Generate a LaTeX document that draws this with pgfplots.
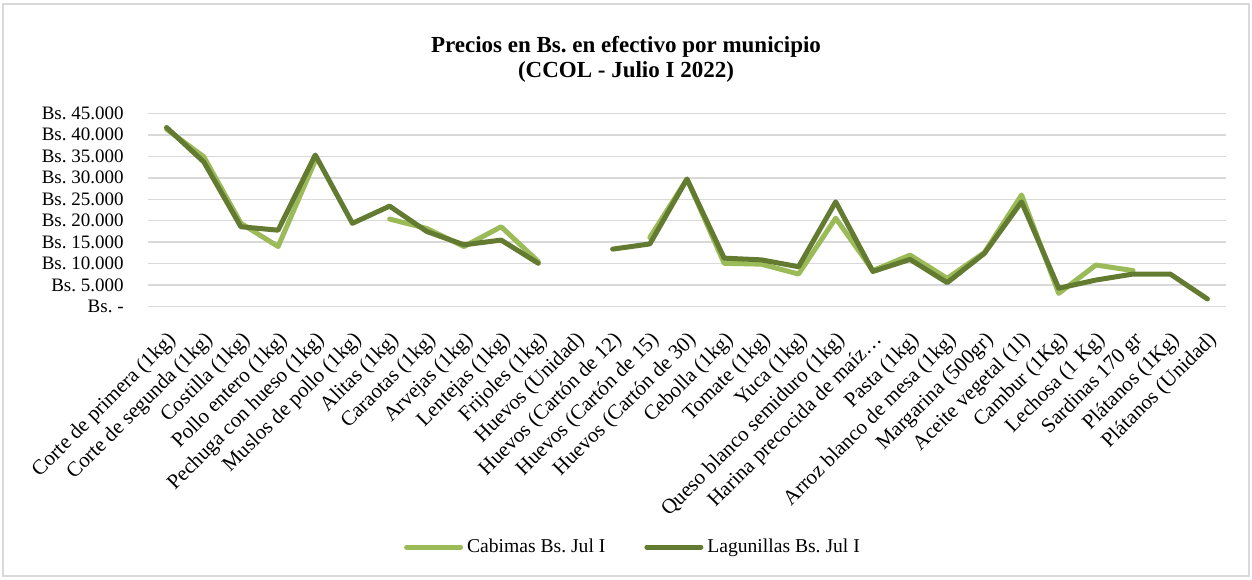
\documentclass[border=0pt]{standalone}
\usepackage{fontspec}
\setmainfont{Liberation Serif}
\usepackage{pgfplots}
\usepackage{pgfplotstable}
\pgfplotsset{compat=1.18}
\frenchspacing

\definecolor{cabimas}{HTML}{9BBB59}
\definecolor{lagun}{HTML}{637B31}
\definecolor{gridc}{HTML}{D9D9D9}

% precios por producto (indice 0..28), nan = sin dato
\pgfplotstableread{
x  cab    lag
0  41300  41700
1  34900  33700
2  19400  18600
3  14000  17800
4  34000  35300
5  nan    19400
6  20400  23400
7  18200  17500
8  14000  14400
9  18600  15500
10 10500  10100
11 nan    nan
12 nan    13400
13 16100  14600
14 29700  29700
15 10100  11300
16 9900   10900
17 7600   9300
18 20600  24400
19 8400   8200
20 12000  11000
21 6600   5600
22 12600  12400
23 26000  24400
24 3100   4300
25 9700   6200
26 8400   7600
27 nan    7600
28 nan    1800
}\precios

\begin{document}
\begin{tikzpicture}
\useasboundingbox (0,0) rectangle (626pt,289.5pt);
\draw[gridc, line width=1pt] (1.5pt,1.5pt) rectangle (624.5pt,287.5pt);
\node[align=center, font=\bfseries\fontsize{11.5}{12.6}\selectfont] at (313pt,260pt)
  {Precios en Bs. en efectivo por municipio\\(CCOL - Julio I 2022)};

\begin{axis}[
  at={(74pt,136.15pt)}, anchor=south west,
  scale only axis, width=539pt, height=96.7pt,
  xmin=-0.5, xmax=28.5, ymin=0, ymax=45000,
  scaled y ticks=false,
  axis line style={draw=none},
  major tick length=0pt,
  ymajorgrids, grid style={gridc, line width=0.75pt},
  ytick={0,5000,...,45000},
  yticklabels={Bs. -,Bs. 5.000,Bs. 10.000,Bs. 15.000,Bs. 20.000,Bs. 25.000,Bs. 30.000,Bs. 35.000,Bs. 40.000,Bs. 45.000},
  yticklabel style={anchor=east, inner sep=0pt, xshift=-12pt, font=\fontsize{9.5}{11}\selectfont},
  xtick={0,...,28},
  xticklabels={Corte de primera (1kg),Corte de segunda (1kg),Costilla (1kg),Pollo entero (1kg),Pechuga con hueso (1kg),Muslos de pollo (1kg),Alitas (1kg),Caraotas (1kg),Arvejas (1kg),Lentejas (1kg),Frijoles (1kg),Huevos (Unidad),Huevos (Cartón de 12),Huevos (Cartón de 15),Huevos (Cartón de 30),Cebolla (1kg),Tomate (1kg),Yuca (1kg),Queso blanco semiduro (1kg),Harina precocida de maíz…,Pasta (1kg),Arroz blanco de mesa (1kg),Margarina (500gr),Aceite vegetal (1l),Cambur (1Kg),Lechosa (1 Kg),Sardinas 170 gr,Plátanos (1Kg),Plátanos (Unidad)},
  xticklabel style={rotate=45, anchor=north east, inner sep=0pt, xshift=-8.5pt, yshift=-8pt, font=\fontsize{10.5}{12}\selectfont},
  unbounded coords=jump,
  legend columns=2,
  legend style={draw=none, at={(0.4508,-1.2425)}, anchor=center,
    font=\fontsize{9.8}{11}\selectfont,
    /tikz/every even column/.append style={column sep=17.5pt}},
  legend image code/.code={\draw[#1, line cap=round] (0pt,0pt) -- (27pt,0pt);},
]
\addplot[cabimas, line width=2.5pt, line join=round, line cap=round] table[x=x, y=cab] {\precios};
\addlegendentry{Cabimas Bs. Jul I}
\addplot[lagun, line width=2.5pt, line join=round, line cap=round] table[x=x, y=lag] {\precios};
\addlegendentry{Lagunillas Bs. Jul I}
\end{axis}
\end{tikzpicture}
\end{document}
